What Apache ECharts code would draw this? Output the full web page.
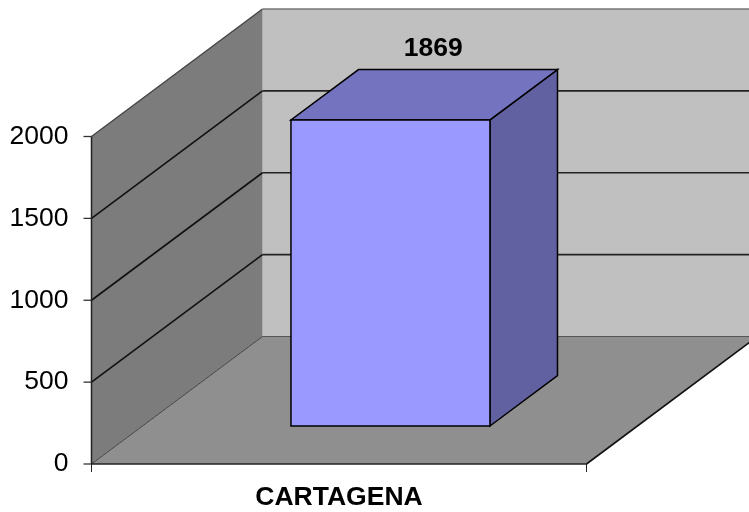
<!DOCTYPE html>
<html>
<head>
<meta charset="utf-8">
<style>html,body{margin:0;padding:0;background:#fff}#c{width:749px;height:512px}</style>
<script src="https://cdn.jsdelivr.net/npm/echarts@6/dist/echarts.min.js"></script>
</head>
<body>
<div id="c"></div>
<script>
var categories = ['CARTAGENA'];
var values = [1869];
var gridValues = [500, 1000, 1500];
var tickValues = [0, 500, 1000, 1500, 2000];
var yMin = 0, yMax = 2000, yStep = 500;

var depthX = 171, depthY = 127.5;
var barBand = 0.402, barDepthStart = 0.298, barDepthSize = 0.395;
var tickLen = 8;
var FONT = '"Liberation Sans", Arial, sans-serif';

function poly(points, fill, stroke, lw) {
  return {type: 'polygon', shape: {points: points},
    style: {fill: fill, stroke: stroke || 'none', lineWidth: lw || 0, lineJoin: 'miter'}};
}
function seg(a, b, stroke, lw) {
  return {type: 'line', shape: {x1: a[0], y1: a[1], x2: b[0], y2: b[1]},
    style: {stroke: stroke, lineWidth: lw, fill: 'none'}};
}
function off(p, f) { return [p[0] + depthX * f, p[1] - depthY * f]; }

function renderPlanes(params, api) {
  var cs = params.coordSys;
  var x0 = cs.x, x1 = cs.x + cs.width;
  var y0 = api.coord([0, yMin])[1], yT = api.coord([0, yMax])[1];
  var c = [];
  var a = [x0, y0], b = [x1, y0], t = [x0, yT];
  c.push(poly([off(a, 1), off(b, 1), off([x1, yT], 1), off(t, 1)], '#c0c0c0'));
  c.push(poly([a, off(a, 1), off(t, 1), t], '#7c7c7c'));
  c.push(poly([a, b, off(b, 1), off(a, 1)], '#8f8f8f'));
  gridValues.forEach(function (v) {
    var y = api.coord([0, v])[1];
    c.push(seg([x0, y], off([x0, y], 1), '#111', 1.6));
    c.push(seg(off([x0, y], 1), off([x1, y], 1), '#222', 1.7));
  });
  tickValues.forEach(function (v) {
    var y = api.coord([0, v])[1];
    c.push(seg([x0 - tickLen, y], [x0, y], '#333', 1.3));
  });
  c.push(seg(t, off(t, 1), '#444', 1.4));
  c.push(seg(off(t, 1), off([x1, yT], 1), '#777', 1.4));
  c.push(seg(a, off(a, 1), '#444', 1));
  c.push(seg(off(a, 1), off(b, 1), '#555', 1.2));
  c.push(seg(a, b, '#222', 1.6));
  c.push(seg(b, off(b, 1), '#111', 1.6));
  c.push(seg(a, t, '#222', 1.5));
  return {type: 'group', children: c};
}

function renderBar(params, api) {
  var cat = api.value(0), val = api.value(1);
  var base = api.coord([cat, 0]), top = api.coord([cat, val]);
  var bw = api.size([1, 0])[0] * barBand;
  var f1 = barDepthStart, f2 = barDepthStart + barDepthSize;
  var L = base[0] - bw / 2 + 0.5, R = base[0] + bw / 2 + 0.5;
  var fbl = off([L, base[1]], f1), fbr = off([R, base[1]], f1);
  var ftl = off([L, top[1]], f1), ftr = off([R, top[1]], f1);
  var bbr = off([R, base[1]], f2);
  var btl = off([L, top[1]], f2), btr = off([R, top[1]], f2);
  var edge = '#000';
  return {type: 'group', children: [
    poly([fbr, bbr, btr, ftr], '#6161a1', edge, 1.5),
    poly([ftl, ftr, btr, btl], '#7373bf', edge, 1.5),
    poly([fbl, fbr, ftr, ftl], '#9999ff', edge, 1.5),
    {type: 'text', style: {
      x: (ftl[0] + btr[0]) / 2 + 9, y: btl[1] - 21,
      text: String(val), fill: '#000', align: 'center', verticalAlign: 'middle',
      font: 'bold 26.5px ' + FONT}}
  ]};
}

var chart = echarts.init(document.getElementById('c'), null, {renderer: 'canvas'});
chart.setOption({
  animation: false,
  backgroundColor: '#fff',
  grid: {left: 91.5, top: 136.5, width: 495, height: 327.5, containLabel: false},
  xAxis: {
    type: 'category', data: categories,
    axisLine: {show: false},
    axisTick: {show: true, length: 8, lineStyle: {color: '#222', width: 1}},
    axisLabel: {color: '#000', fontFamily: FONT, fontWeight: 'bold', fontSize: 26.5, margin: 20, interval: 0}
  },
  yAxis: {
    type: 'value', min: yMin, max: yMax, interval: yStep,
    splitLine: {show: false},
    axisLine: {show: false},
    axisTick: {show: false},
    axisLabel: {color: '#000', fontFamily: FONT, fontSize: 26.5, margin: 23, padding: [2, 0, 0, 0],
      formatter: function (v) { return String(v); }}
  },
  series: [
    {type: 'custom', coordinateSystem: 'cartesian2d', clip: false, silent: true,
     renderItem: renderPlanes, data: [[0, 0]], z: 1},
    {type: 'custom', coordinateSystem: 'cartesian2d', clip: false, silent: true,
     renderItem: renderBar, encode: {x: 0, y: 1},
     data: values.map(function (v, i) { return [i, v]; }), z: 2}
  ]
});
</script>
</body>
</html>
